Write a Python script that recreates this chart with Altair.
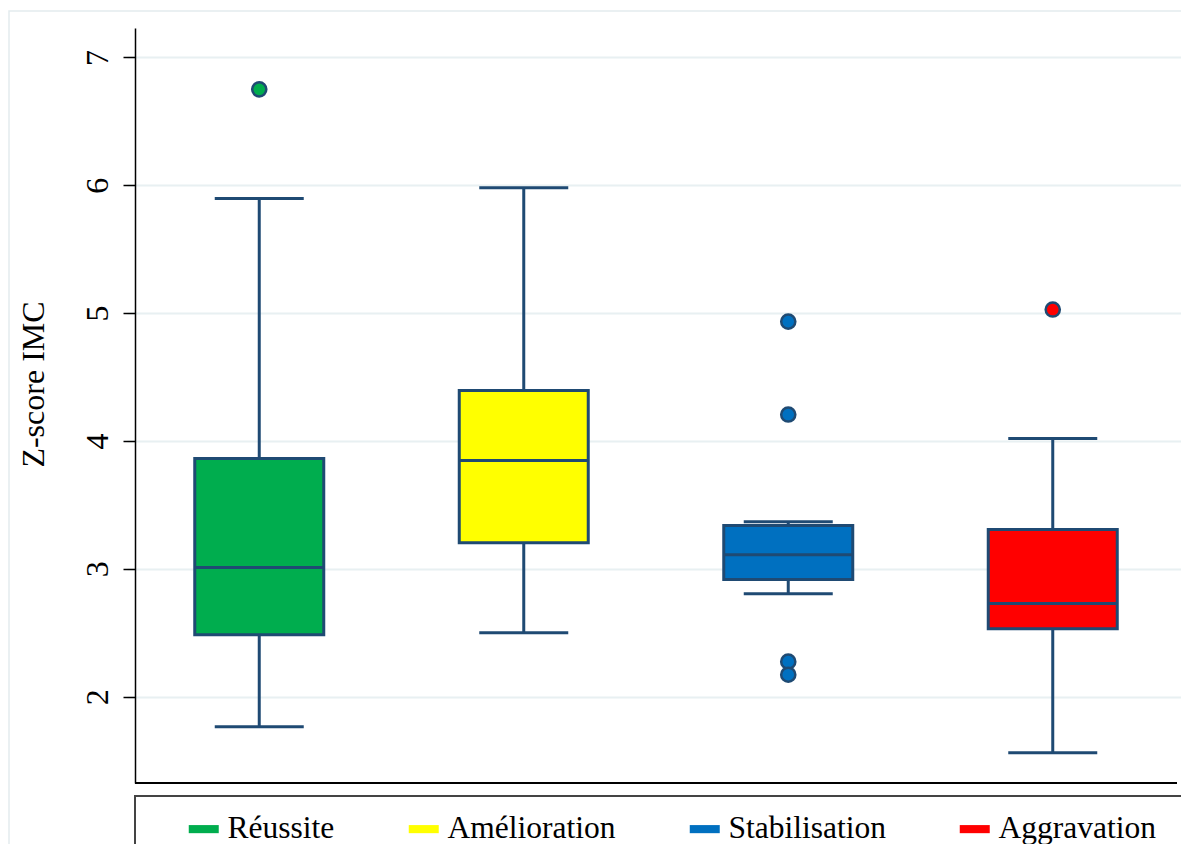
import altair as alt
import pandas as pd

# ---- data ----
categories = ["Réussite", "Amélioration", "Stabilisation", "Aggravation"]
whisker_low = [1.765, 2.50, 2.806, 1.562]
q1 = [2.485, 3.205, 2.916, 2.532]
median = [3.01, 3.847, 3.111, 2.728]
q3 = [3.862, 4.394, 3.338, 3.307]
whisker_high = [5.897, 5.98, 3.369, 4.019]

outlier_group = ["Réussite", "Stabilisation", "Stabilisation", "Stabilisation", "Stabilisation", "Aggravation"]
outlier_value = [6.75, 4.934, 4.207, 2.274, 2.172, 5.028]

y_ticks = [2, 3, 4, 5, 6, 7]

colors = ["#00AD4E", "#FFFF00", "#0070C0", "#FF0000"]
navy = "#1F4A73"
serif = "Liberation Serif"

box_df = pd.DataFrame({
    "groupe": categories,
    "low": whisker_low,
    "q1": q1,
    "med": median,
    "q3": q3,
    "high": whisker_high,
})
out_df = pd.DataFrame({"groupe": outlier_group, "valeur": outlier_value})
deco_df = pd.DataFrame({"d": [0]})

W, H = 1042, 755

xenc = alt.X(
    "groupe:N",
    sort=categories,
    scale=alt.Scale(range=[-8, 1050], paddingInner=0, paddingOuter=0),
    axis=alt.Axis(title=None, labels=False, ticks=False, domain=False, grid=False),
)
yscale = alt.Scale(domain=[1.325, 7.23], nice=False, zero=False)
yaxis = alt.Axis(
    values=y_ticks,
    format="d",
    title="Z-score IMC",
    titleFont=serif,
    titleFontSize=32,
    titleFontWeight="normal",
    titleColor="black",
    titleAngle=270,
    titleX=-92,
    titleY=356,
    titleAlign="center",
    titleBaseline="alphabetic",
    labelAngle=270,
    labelAlign="center",
    labelBaseline="alphabetic",
    labelFont=serif,
    labelFontSize=32,
    labelColor="black",
    labelPadding=16,
    tickSize=12,
    tickColor="black",
    tickWidth=1.5,
    domainColor="black",
    domainWidth=1.5,
    gridColor="#E8F0F2",
    gridWidth=2,
)

color_enc = alt.Color(
    "groupe:N",
    sort=categories,
    scale=alt.Scale(domain=categories, range=colors),
    legend=alt.Legend(
        title=None,
        orient="none",
        legendX=53,
        legendY=785,
        direction="horizontal",
        columns=4,
        columnPadding=73,
        symbolType="M-1,-0.27H1V0.27H-1Z",
        symbolSize=900,
        symbolStrokeWidth=0,
        symbolOpacity=1,
        labelFont=serif,
        labelFontSize=31.5,
        labelColor="black",
        labelOffset=8,
        labelLimit=400,
        padding=0,
    ),
)

base = alt.Chart(box_df)

whisker = base.mark_rule(color=navy, strokeWidth=3).encode(
    x=xenc,
    y=alt.Y("low:Q", scale=yscale, axis=yaxis),
    y2="high:Q",
)
cap_low = base.mark_tick(color=navy, size=89, thickness=3, opacity=1).encode(
    x=xenc, y=alt.Y("low:Q", scale=yscale)
)
cap_high = base.mark_tick(color=navy, size=89, thickness=3, opacity=1).encode(
    x=xenc, y=alt.Y("high:Q", scale=yscale)
)
box_fill = base.mark_bar(size=129, opacity=1).encode(
    x=xenc, y=alt.Y("q1:Q", scale=yscale), y2="q3:Q", color=color_enc
)
box_line = base.mark_bar(size=129, fillOpacity=0, stroke=navy, strokeWidth=3).encode(
    x=xenc, y=alt.Y("q1:Q", scale=yscale), y2="q3:Q"
)
med_line = base.mark_tick(color=navy, size=129, thickness=3, opacity=1).encode(
    x=xenc, y=alt.Y("med:Q", scale=yscale)
)
points = alt.Chart(out_df).mark_circle(size=200, stroke=navy, strokeWidth=2.5, opacity=1).encode(
    x=xenc,
    y=alt.Y("valeur:Q", scale=yscale),
    color=alt.Color("groupe:N", sort=categories, scale=alt.Scale(domain=categories, range=colors), legend=None),
)

deco = alt.Chart(deco_df)
x_line = deco.mark_rule(color="black", strokeWidth=2).encode(
    x=alt.value(0), x2=alt.value(W), y=alt.value(H)
)
legend_box = deco.mark_rect(fillOpacity=0, stroke="#444444", strokeWidth=2).encode(
    x=alt.value(0), x2=alt.value(1200), y=alt.value(768), y2=alt.value(900)
)
outer_box = deco.mark_rect(fillOpacity=0, stroke="#E3EBEE", strokeWidth=1.5).encode(
    x=alt.value(-126), x2=alt.value(1200), y=alt.value(-17), y2=alt.value(900)
)

chart = alt.layer(
    outer_box, whisker, cap_low, cap_high, box_fill, box_line, med_line, points, x_line, legend_box
).properties(
    width=W,
    height=H,
    autosize=alt.AutoSizeParams(type="none"),
    padding={"left": 127, "top": 20, "right": 4, "bottom": 61},
    background="white",
).configure_view(strokeWidth=0).configure_axis(
    labelFont=serif, titleFont=serif
).configure_legend(labelFont=serif)

chart.save("out.html", embed_options={"renderer": "svg", "actions": False})
